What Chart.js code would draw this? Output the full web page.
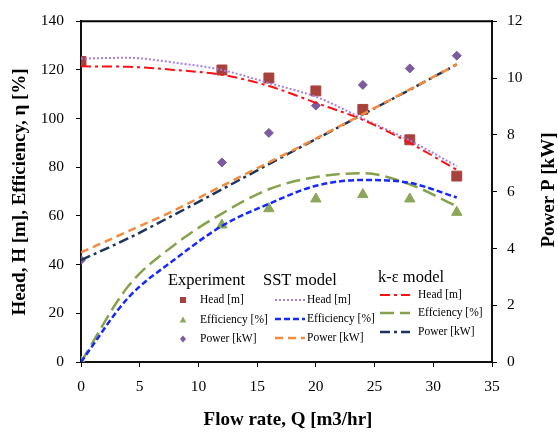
<!DOCTYPE html>
<html>
<head>
<meta charset="utf-8">
<style>
  body { margin: 0; background: #fff; }
  #wrap { width: 558px; height: 434px; }
</style>
<script src="https://cdn.jsdelivr.net/npm/chart.js"></script>
</head>
<body>
<div id="wrap"><canvas id="pumpChart" width="558" height="434"></canvas></div>
<script>
// pump curves: experiment points vs two CFD models

const expFlow = [0, 12, 16, 20, 24, 28, 32];
const expHead = [123.5, 120, 116.7, 111.4, 103.8, 91.3, 76.4];
const expEff = [0, 56.3, 63, 67, 68.8, 67, 61.5];
const expPower = [3.59, 7.03, 8.07, 9.03, 9.76, 10.34, 10.79];

const modelFlow = [0, 4, 8, 12, 16, 20, 24, 28, 32];
const sstHead = [124.7, 125, 123, 120, 114.6, 109, 100, 91, 80.5];
const sstEff = [0, 26.3, 42.2, 55.9, 65, 72.4, 74.8, 73.6, 67.6];
const sstPower = [3.86, 4.6, 5.35, 6.2, 7.03, 7.87, 8.73, 9.6, 10.48];
const keHead = [121.5, 121.3, 120, 118, 113.4, 106.5, 99.5, 90, 79];
const keEff = [0, 31, 48.3, 61, 71, 76, 77.6, 73, 64];
const kePower = [3.59, 4.35, 5.2, 6.08, 6.97, 7.85, 8.72, 9.59, 10.48];

const xTicks = [0, 5, 10, 15, 20, 25, 30, 35];
const leftTicks = [0, 20, 40, 60, 80, 100, 120, 140];
const rightTicks = [0, 2, 4, 6, 8, 10, 12];

const legendHeads = ['Experiment', 'SST model', 'k-\u03b5 model'];
const expLabels = ['Head [m]', 'Efficiency [%]', 'Power [kW]'];
const sstLabels = ['Head [m]', 'Efficiency [%]', 'Power [kW]'];
const keLabels = ['Head [m]', 'Effciency [%]', 'Power [kW]'];

const SERIF = "'Liberation Serif', 'Times New Roman', serif";

const C = {
  square: '#A8403D',
  tri: '#8BA75A',
  diamond: '#7B5BA0',
  sstHead: '#A77FE0',
  sstEff: '#1428FF',
  sstPower: '#F58B3A',
  keHead: '#FF1010',
  keEff: '#86A24C',
  kePower: '#1C3460'
};

function pts(xs, ys) {
  return xs.map((x, i) => ({ x: x, y: ys[i] }));
}

function lineSet(data, color, dash, width, axis) {
  return {
    data: data,
    yAxisID: axis,
    showLine: true,
    borderColor: color,
    backgroundColor: color,
    borderWidth: width,
    borderDash: dash,
    pointRadius: 0,
    fill: false,
    tension: 0.4,
    cubicInterpolationMode: 'monotone'
  };
}

function pointSet(data, color, style, radius, axis) {
  return {
    data: data,
    yAxisID: axis,
    showLine: false,
    pointStyle: style,
    pointRadius: radius,
    pointBackgroundColor: color,
    pointBorderColor: color,
    backgroundColor: color,
    borderColor: color
  };
}

// legend line styles (same as the curves)
const sstStyles = [
  [C.sstHead, [2, 2], 2],
  [C.sstEff, [6, 3], 2.5],
  [C.sstPower, [8, 5], 2.5]
];
const keStyles = [
  [C.keHead, [10, 4, 3, 4], 2],
  [C.keEff, [14, 6], 2.5],
  [C.kePower, [10, 4, 3, 4], 2.5]
];

function drawMarker(ctx, kind, x, y, s, color) {
  ctx.fillStyle = color;
  ctx.beginPath();
  if (kind === 'rect') {
    ctx.rect(x - s, y - s, 2 * s, 2 * s);
  } else if (kind === 'triangle') {
    ctx.moveTo(x, y - s * 1.2);
    ctx.lineTo(x + s * 1.1, y + s * 0.8);
    ctx.lineTo(x - s * 1.1, y + s * 0.8);
    ctx.closePath();
  } else {
    ctx.moveTo(x, y - s * 1.2);
    ctx.lineTo(x + s, y);
    ctx.lineTo(x, y + s * 1.2);
    ctx.lineTo(x - s, y);
    ctx.closePath();
  }
  ctx.fill();
}

const framePlugin = {
  id: 'frame',
  afterDraw(chart) {
    const ctx = chart.ctx;
    const a = chart.chartArea;
    ctx.save();
    // top border of the plot box
    ctx.strokeStyle = '#000';
    ctx.lineWidth = 2;
    ctx.beginPath();
    ctx.moveTo(a.left - 1, a.top);
    ctx.lineTo(a.right + 1, a.top);
    ctx.stroke();

    // axis titles
    ctx.fillStyle = '#000';
    ctx.font = 'bold 19px ' + SERIF;
    ctx.textAlign = 'center';
    ctx.textBaseline = 'middle';
    ctx.fillText('Flow rate, Q [m3/hr]', 288, 420);

    ctx.save();
    ctx.translate(20, 192);
    ctx.rotate(-Math.PI / 2);
    ctx.fillText('Head, H [m], Efficiency, \u03b7 [%]', 0, 0);
    ctx.restore();

    ctx.save();
    ctx.translate(549, 190);
    ctx.rotate(-Math.PI / 2);
    ctx.fillText('Power P [kW]', 0, 0);
    ctx.restore();

    // legend block
    ctx.textAlign = 'left';
    ctx.font = '16.5px ' + SERIF;
    ctx.fillText(legendHeads[0], 168, 281);
    ctx.fillText(legendHeads[1], 263, 281);
    ctx.fillText(legendHeads[2], 378, 278);

    ctx.font = '11.5px ' + SERIF;
    const rows1 = [300, 320, 339];
    const kinds = ['rect', 'triangle', 'diamond'];
    const mcol = [C.square, C.tri, C.diamond];
    for (let i = 0; i < 3; i++) {
      drawMarker(ctx, kinds[i], 183, rows1[i], 3, mcol[i]);
      ctx.fillStyle = '#000';
      ctx.fillText(expLabels[i], 200, rows1[i]);
    }
    const rows2 = [300, 319, 338];
    for (let i = 0; i < 3; i++) {
      ctx.strokeStyle = sstStyles[i][0];
      ctx.setLineDash(sstStyles[i][1]);
      ctx.lineWidth = sstStyles[i][2];
      ctx.beginPath();
      ctx.moveTo(275, rows2[i]);
      ctx.lineTo(305, rows2[i]);
      ctx.stroke();
      ctx.fillStyle = '#000';
      ctx.fillText(sstLabels[i], 307, rows2[i]);
    }
    const rows3 = [295, 313, 332];
    for (let i = 0; i < 3; i++) {
      ctx.strokeStyle = keStyles[i][0];
      ctx.setLineDash(keStyles[i][1]);
      ctx.lineWidth = keStyles[i][2];
      ctx.beginPath();
      ctx.moveTo(380, rows3[i]);
      ctx.lineTo(410, rows3[i]);
      ctx.stroke();
      ctx.fillStyle = '#000';
      ctx.fillText(keLabels[i], 418, rows3[i]);
    }
    ctx.restore();
  }
};

function axisCommon() {
  return {
    grid: { display: true, drawOnChartArea: false, drawTicks: true, tickLength: 5, color: '#000', lineWidth: 1 },
    border: { display: true, color: '#111', width: 2 },
    ticks: { color: '#000', font: { family: SERIF, size: 15.5 } }
  };
}

const xAxis = axisCommon();
xAxis.type = 'linear';
xAxis.min = 0;
xAxis.max = 35;
xAxis.ticks.stepSize = 5;
xAxis.ticks.padding = 11;
xAxis.afterBuildTicks = s => { s.ticks = xTicks.map(v => ({ value: v })); };
xAxis.afterFit = s => { s.height = 72; };

const yAxis = axisCommon();
yAxis.position = 'left';
yAxis.min = 0;
yAxis.max = 140;
yAxis.ticks.padding = 12;
yAxis.afterBuildTicks = s => { s.ticks = leftTicks.map(v => ({ value: v })); };
yAxis.afterFit = s => { s.width = 81; };

const y1Axis = axisCommon();
y1Axis.position = 'right';
y1Axis.min = 0;
y1Axis.max = 12;
y1Axis.ticks.padding = 10;
y1Axis.afterBuildTicks = s => { s.ticks = rightTicks.map(v => ({ value: v })); };
y1Axis.afterFit = s => { s.width = 66; };

new Chart(document.getElementById('pumpChart').getContext('2d'), {
  type: 'scatter',
  data: {
    datasets: [
      lineSet(pts(modelFlow, sstPower), C.sstPower, [8, 5], 2.5, 'y1'),
      lineSet(pts(modelFlow, kePower), C.kePower, [10, 4, 3, 4], 2.5, 'y1'),
      lineSet(pts(modelFlow, sstEff), C.sstEff, [6, 3], 2.5, 'y'),
      lineSet(pts(modelFlow, keEff), C.keEff, [14, 6], 2.5, 'y'),
      lineSet(pts(modelFlow, keHead), C.keHead, [10, 4, 3, 4], 2, 'y'),
      lineSet(pts(modelFlow, sstHead), C.sstHead, [2, 2], 2, 'y'),
      pointSet(pts(expFlow, expHead), C.square, 'rect', 7, 'y'),
      pointSet(pts(expFlow, expEff), C.tri, 'triangle', 6, 'y'),
      pointSet(pts(expFlow, expPower), C.diamond, 'rectRot', 4.5, 'y1')
    ]
  },
  options: {
    responsive: false,
    animation: false,
    devicePixelRatio: 1,
    layout: { padding: { top: 14, left: 0, right: 0, bottom: 0 } },
    plugins: {
      legend: { display: false },
      tooltip: { enabled: false }
    },
    scales: {
      x: xAxis,
      y: yAxis,
      y1: y1Axis
    }
  },
  plugins: [framePlugin]
});
</script>
</body>
</html>
